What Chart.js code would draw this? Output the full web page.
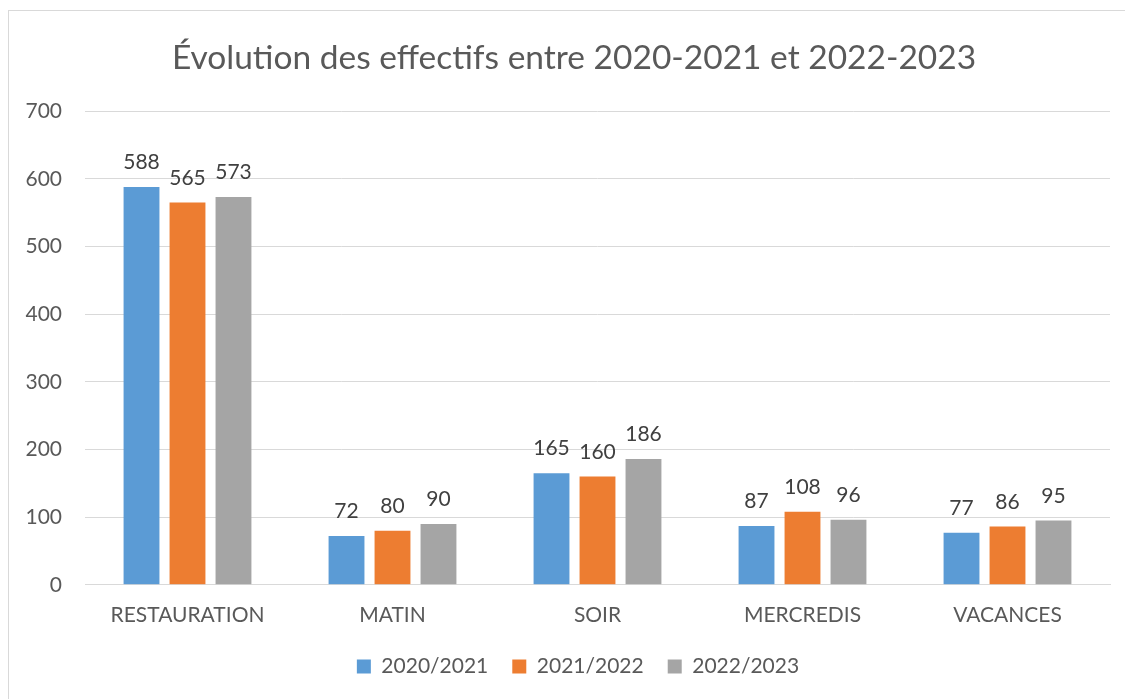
<!DOCTYPE html>
<html>
<head>
<meta charset="utf-8">
<script src="https://cdn.jsdelivr.net/npm/chart.js@4"></script>
<style>
html,body{margin:0;padding:0;background:#fff;overflow:hidden;}
canvas{display:block;}
</style>
</head>
<body>
<canvas id="c" width="1125" height="699"></canvas>
<script>
const categories = ["RESTAURATION", "MATIN", "SOIR", "MERCREDIS", "VACANCES"];
const seriesNames = ["2020/2021", "2021/2022", "2022/2023"];
const values2020 = [588, 72, 165, 87, 77];
const values2021 = [565, 80, 160, 108, 86];
const values2022 = [573, 90, 186, 96, 95];
const seriesColors = ["#5B9BD5", "#ED7D31", "#A5A5A5"];
const yTicks = [0, 100, 200, 300, 400, 500, 600, 700];
const titleText = "Évolution des effectifs entre 2020-2021 et 2022-2023";

const FONT = "Lato, 'Open Sans', sans-serif";

const frame = {
  id: 'frame',
  beforeDraw(chart) {
    const ctx = chart.ctx;
    ctx.save();
    ctx.fillStyle = '#fff';
    ctx.fillRect(0, 0, chart.width, chart.height);
    ctx.strokeStyle = '#d9d9d9';
    ctx.lineWidth = 1;
    ctx.strokeRect(8.5, 10.5, 1300, 900);
    ctx.restore();
  }
};

// Centre title and legend on the outer frame rather than the canvas
const shiftBoxes = {
  id: 'shiftBoxes',
  afterLayout(chart) {
    if (chart.titleBlock) { chart.titleBlock.left += 14; chart.titleBlock.right += 14; }
    if (chart.legend) { chart.legend.left += 18; chart.legend.right += 18; }
  }
};

const barLabels = {
  id: 'barLabels',
  afterDatasetsDraw(chart) {
    const ctx = chart.ctx;
    ctx.save();
    ctx.font = "21px " + FONT;
    ctx.fillStyle = '#404040';
    ctx.textAlign = 'center';
    ctx.textBaseline = 'alphabetic';
    chart.data.datasets.forEach((ds, di) => {
      const meta = chart.getDatasetMeta(di);
      meta.data.forEach((bar, i) => {
        ctx.fillText(String(ds.data[i]), bar.x, bar.y - 18);
      });
    });
    ctx.restore();
  }
};

const datasetValues = [values2020, values2021, values2022];

new Chart(document.getElementById('c'), {
  type: 'bar',
  data: {
    labels: categories,
    datasets: seriesNames.map((n, i) => ({
      label: n,
      data: datasetValues[i],
      backgroundColor: seriesColors[i],
      categoryPercentage: 0.673,
      barPercentage: 0.78
    }))
  },
  options: {
    responsive: false,
    animation: false,
    devicePixelRatio: 1,
    layout: { padding: { left: 10, right: 15, top: 26, bottom: 12 } },
    plugins: {
      title: {
        display: true,
        text: titleText,
        color: '#595959',
        font: { family: FONT, size: 33.5, weight: 'normal' },
        padding: { top: 12, bottom: 33 }
      },
      legend: {
        position: 'bottom',
        labels: {
          color: '#595959',
          font: { family: FONT, size: 21 },
          boxWidth: 14,
          boxHeight: 14,
          padding: 24
        }
      },
      tooltip: { enabled: false }
    },
    scales: {
      x: {
        grid: { display: false, drawTicks: false },
        border: { color: '#d9d9d9', width: 1 },
        ticks: { color: '#595959', font: { family: FONT, size: 21 }, padding: 18 },
        afterFit(scale) { scale.height -= 14; }
      },
      y: {
        min: 0,
        max: 700,
        afterBuildTicks(scale) { scale.ticks = yTicks.map(v => ({ value: v })); },
        afterFit(scale) { scale.width = 75; },
        grid: { color: '#d9d9d9', drawTicks: false },
        border: { display: false },
        ticks: { color: '#595959', font: { family: FONT, size: 21 }, padding: 23 }
      }
    }
  },
  plugins: [frame, shiftBoxes, barLabels]
});
</script>
</body>
</html>
